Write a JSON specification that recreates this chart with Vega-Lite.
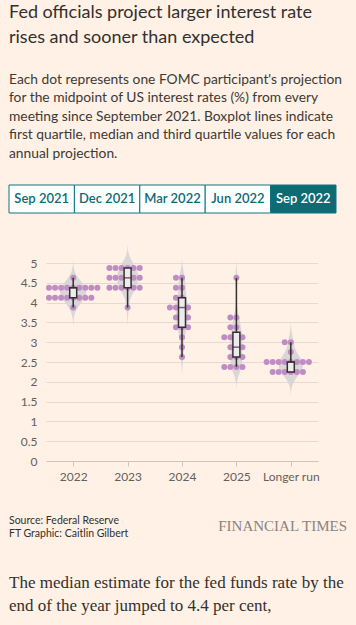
{
  "$schema": "https://vega.github.io/schema/vega-lite/v6.json",
  "background": "#fff1e5",
  "padding": {"left": 8, "top": 4, "right": 10, "bottom": 30},
  "config": {
    "view": {"stroke": null},
    "font": "Lato",
    "text": {"font": "Lato"}
  },
  "title": {
    "text": ["Fed officials project larger interest rate", "rises and sooner than expected"],
    "subtitle": [
      "Each dot represents one FOMC participant's projection",
      "for the midpoint of US interest rates (%) from every",
      "meeting since September 2021. Boxplot lines indicate",
      "first quartile, median and third quartile values for each",
      "annual projection."
    ],
    "anchor": "start",
    "frame": "group",
    "font": "Lato",
    "fontSize": 18,
    "fontWeight": "normal",
    "lineHeight": 25,
    "color": "#33302e",
    "subtitleFont": "Lato",
    "subtitleFontSize": 13.8,
    "subtitleLineHeight": 18.4,
    "subtitleColor": "#3d3936",
    "subtitlePadding": 26,
    "offset": 24
  },
  "datasets": {
    "tabs": [
      {"tab": "Sep 2021", "current": false},
      {"tab": "Dec 2021", "current": false},
      {"tab": "Mar 2022", "current": false},
      {"tab": "Jun 2022", "current": false},
      {"tab": "Sep 2022", "current": true}
    ],
    "dots": [
      {"year": "2022", "rate": 4.625},
      {"year": "2022", "rate": 4.375}, {"year": "2022", "rate": 4.375}, {"year": "2022", "rate": 4.375},
      {"year": "2022", "rate": 4.375}, {"year": "2022", "rate": 4.375}, {"year": "2022", "rate": 4.375},
      {"year": "2022", "rate": 4.375}, {"year": "2022", "rate": 4.375}, {"year": "2022", "rate": 4.375},
      {"year": "2022", "rate": 4.125}, {"year": "2022", "rate": 4.125}, {"year": "2022", "rate": 4.125},
      {"year": "2022", "rate": 4.125}, {"year": "2022", "rate": 4.125}, {"year": "2022", "rate": 4.125},
      {"year": "2022", "rate": 4.125}, {"year": "2022", "rate": 4.125},
      {"year": "2022", "rate": 3.875},

      {"year": "2023", "rate": 4.875}, {"year": "2023", "rate": 4.875}, {"year": "2023", "rate": 4.875},
      {"year": "2023", "rate": 4.875}, {"year": "2023", "rate": 4.875}, {"year": "2023", "rate": 4.875},
      {"year": "2023", "rate": 4.625}, {"year": "2023", "rate": 4.625}, {"year": "2023", "rate": 4.625},
      {"year": "2023", "rate": 4.625}, {"year": "2023", "rate": 4.625}, {"year": "2023", "rate": 4.625},
      {"year": "2023", "rate": 4.375}, {"year": "2023", "rate": 4.375}, {"year": "2023", "rate": 4.375},
      {"year": "2023", "rate": 4.375}, {"year": "2023", "rate": 4.375}, {"year": "2023", "rate": 4.375},
      {"year": "2023", "rate": 3.875},

      {"year": "2024", "rate": 4.625}, {"year": "2024", "rate": 4.625},
      {"year": "2024", "rate": 4.375}, {"year": "2024", "rate": 4.375},
      {"year": "2024", "rate": 4.125}, {"year": "2024", "rate": 4.125},
      {"year": "2024", "rate": 3.875}, {"year": "2024", "rate": 3.875}, {"year": "2024", "rate": 3.875}, {"year": "2024", "rate": 3.875},
      {"year": "2024", "rate": 3.625}, {"year": "2024", "rate": 3.625}, {"year": "2024", "rate": 3.625},
      {"year": "2024", "rate": 3.375}, {"year": "2024", "rate": 3.375}, {"year": "2024", "rate": 3.375},
      {"year": "2024", "rate": 3.125},
      {"year": "2024", "rate": 2.875},
      {"year": "2024", "rate": 2.625},

      {"year": "2025", "rate": 4.625},
      {"year": "2025", "rate": 3.625}, {"year": "2025", "rate": 3.625},
      {"year": "2025", "rate": 3.375}, {"year": "2025", "rate": 3.375},
      {"year": "2025", "rate": 3.125}, {"year": "2025", "rate": 3.125}, {"year": "2025", "rate": 3.125}, {"year": "2025", "rate": 3.125},
      {"year": "2025", "rate": 2.875}, {"year": "2025", "rate": 2.875}, {"year": "2025", "rate": 2.875},
      {"year": "2025", "rate": 2.625}, {"year": "2025", "rate": 2.625}, {"year": "2025", "rate": 2.625},
      {"year": "2025", "rate": 2.375}, {"year": "2025", "rate": 2.375}, {"year": "2025", "rate": 2.375}, {"year": "2025", "rate": 2.375},

      {"year": "Longer run", "rate": 3.0}, {"year": "Longer run", "rate": 3.0},
      {"year": "Longer run", "rate": 2.75},
      {"year": "Longer run", "rate": 2.5}, {"year": "Longer run", "rate": 2.5}, {"year": "Longer run", "rate": 2.5},
      {"year": "Longer run", "rate": 2.5}, {"year": "Longer run", "rate": 2.5}, {"year": "Longer run", "rate": 2.5},
      {"year": "Longer run", "rate": 2.5}, {"year": "Longer run", "rate": 2.5},
      {"year": "Longer run", "rate": 2.25}, {"year": "Longer run", "rate": 2.25}, {"year": "Longer run", "rate": 2.25},
      {"year": "Longer run", "rate": 2.25}, {"year": "Longer run", "rate": 2.25}, {"year": "Longer run", "rate": 2.25}
    ],
    "source": [
      {"line": "Source: Federal Reserve"},
      {"line": "FT Graphic: Caitlin Gilbert"}
    ],
    "brand": [{"name": "FINANCIAL TIMES"}],
    "body": [
      {"line": "The median estimate for the fed funds rate by the"},
      {"line": "end of the year jumped to 4.4 per cent,"}
    ]
  },
  "spacing": 31,
  "vconcat": [
    {
      "data": {"name": "tabs"},
      "width": 327,
      "height": 28,
      "encoding": {
        "x": {"field": "tab", "type": "nominal", "sort": null, "axis": null,
              "scale": {"paddingInner": 0, "paddingOuter": 0}}
      },
      "layer": [
        {
          "mark": {"type": "bar", "stroke": "#0d7680", "strokeWidth": 1},
          "encoding": {
            "color": {"condition": {"test": "datum.current", "value": "#0d6b74"}, "value": "#ffffff"}
          }
        },
        {
          "mark": {"type": "text", "font": "Lato", "fontSize": 13, "fontWeight": 600, "baseline": "middle"},
          "encoding": {
            "text": {"field": "tab"},
            "color": {"condition": {"test": "datum.current", "value": "#ffffff"}, "value": "#0d6b74"}
          }
        }
      ]
    },
    {
      "spacing": 32,
      "vconcat": [
        {
          "data": {"name": "dots"},
          "width": 309,
          "height": 198,
          "transform": [
            {"calculate": "indexof(['2022','2023','2024','2025','Longer run'], datum.year)", "as": "idx"}
          ],
          "encoding": {
            "y": {"type": "quantitative",
                  "scale": {"domain": [0, 5], "nice": false, "padding": 0},
                  "axis": {"values": [0, 0.5, 1, 1.5, 2, 2.5, 3, 3.5, 4, 4.5, 5], "format": "~g",
                           "title": null, "grid": true, "gridColor": "#e3dad1", "gridWidth": 1,
                           "domain": false, "ticks": false, "labelAlign": "right", "labelPadding": -28,
                           "labelFont": "Lato", "labelFontSize": 12, "labelColor": "#66605c"}}
          },
          "layer": [
            {
              "transform": [
                {"density": "rate", "groupby": ["year", "idx"], "bandwidth": 0.2, "extent": [1, 6.5], "steps": 220},
                {"filter": "datum.density > 0.01"},
                {"calculate": "datum.idx - datum.density * 0.16", "as": "lo"},
                {"calculate": "datum.idx + datum.density * 0.16", "as": "hi"}
              ],
              "mark": {"type": "area", "orient": "horizontal", "color": "#d8d5d8", "opacity": 0.95},
              "encoding": {
                "y": {"field": "value", "type": "quantitative"},
                "x": {"field": "lo", "type": "quantitative",
                      "scale": {"domain": [-0.5, 4.5], "range": [37, 309], "padding": 0, "nice": false, "zero": false},
                      "axis": {"values": [0, 1, 2, 3, 4], "labelExpr": "['2022','2023','2024','2025','Longer run'][datum.value]",
                               "title": null, "grid": false, "domain": true, "domainColor": "#cfc5bb",
                               "ticks": true, "tickColor": "#cfc5bb", "tickSize": 5, "labelPadding": 5,
                               "labelFont": "Lato", "labelFontSize": 12, "labelColor": "#66605c"}},
                "x2": {"field": "hi"},
                "detail": {"field": "year"}
              }
            },
            {
              "transform": [
                {"window": [{"op": "row_number", "as": "k"}], "groupby": ["year", "rate"]},
                {"joinaggregate": [{"op": "count", "as": "n"}], "groupby": ["year", "rate"]},
                {"calculate": "datum.idx + (datum.k - 1 - floor(datum.n / 2)) / 9", "as": "xpos"}
              ],
              "mark": {"type": "circle", "size": 36, "color": "#c08cc4", "opacity": 1},
              "encoding": {
                "x": {"field": "xpos", "type": "quantitative"},
                "y": {"field": "rate", "type": "quantitative"}
              }
            },
            {
              "transform": [
                {"aggregate": [
                  {"op": "min", "field": "rate", "as": "lo"},
                  {"op": "q1", "field": "rate", "as": "q1"},
                  {"op": "median", "field": "rate", "as": "mid"},
                  {"op": "q3", "field": "rate", "as": "q3"},
                  {"op": "max", "field": "rate", "as": "hi"}
                ], "groupby": ["year", "idx"]}
              ],
              "layer": [
                {
                  "mark": {"type": "rule", "color": "#33302e", "strokeWidth": 1.5},
                  "encoding": {
                    "x": {"field": "idx", "type": "quantitative"},
                    "y": {"field": "lo", "type": "quantitative"},
                    "y2": {"field": "hi"}
                  }
                },
                {
                  "mark": {"type": "bar", "size": 7, "fill": "#eeeaee", "stroke": "#33302e", "strokeWidth": 1.5},
                  "encoding": {
                    "x": {"field": "idx", "type": "quantitative"},
                    "y": {"field": "q1", "type": "quantitative"},
                    "y2": {"field": "q3"}
                  }
                },
                {
                  "mark": {"type": "tick", "orient": "horizontal", "size": 7, "thickness": 1.5, "color": "#33302e"},
                  "encoding": {
                    "x": {"field": "idx", "type": "quantitative"},
                    "y": {"field": "mid", "type": "quantitative"}
                  }
                }
              ]
            }
          ]
        },
        {
          "spacing": 30,
          "vconcat": [
            {
              "width": 338,
              "height": {"step": 13.5},
              "layer": [
                {
                  "data": {"name": "source"},
                  "mark": {"type": "text", "align": "left", "baseline": "middle", "font": "Lato", "fontSize": 10.5, "color": "#33302e"},
                  "encoding": {
                    "x": {"value": 0},
                    "y": {"field": "line", "type": "nominal", "sort": null, "axis": null},
                    "text": {"field": "line"}
                  }
                },
                {
                  "data": {"name": "brand"},
                  "mark": {"type": "text", "align": "right", "baseline": "middle", "font": "Liberation Serif", "fontSize": 15, "color": "#8a847f", "dy": -2},
                  "encoding": {
                    "x": {"value": "width"},
                    "text": {"field": "name"}
                  }
                }
              ]
            },
            {
              "data": {"name": "body"},
              "width": 338,
              "height": {"step": 23},
              "mark": {"type": "text", "align": "left", "baseline": "middle", "font": "Liberation Serif", "fontSize": 17, "color": "#33302e"},
              "encoding": {
                "x": {"value": 0},
                "y": {"field": "line", "type": "nominal", "sort": null, "axis": null},
                "text": {"field": "line"}
              }
            }
          ]
        }
      ]
    }
  ]
}
